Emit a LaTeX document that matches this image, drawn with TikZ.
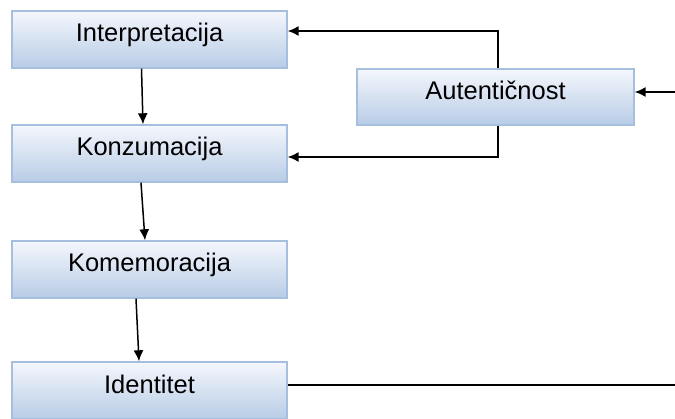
\documentclass[tikz,border=0pt]{standalone}
\usepackage{fontspec}
\setmainfont{Liberation Sans}
\usetikzlibrary{arrows.meta,shadows}
\definecolor{boxtop}{HTML}{F4F7FC}
\definecolor{boxbot}{HTML}{B8CCE6}
\definecolor{boxline}{HTML}{A6BFDE}
\begin{document}
\begin{tikzpicture}[x=1pt,y=1pt,
  stagebox/.style={draw=boxline, line width=1.4pt, top color=boxtop, bottom color=boxbot,
    minimum width=275pt, minimum height=57pt, inner sep=0pt,
    text height=15pt, text depth=10pt, font=\fontsize{25.5}{30}\selectfont,
    drop shadow={shadow xshift=0pt, shadow yshift=-1.5pt, opacity=0.3, fill=black!60}},
  conn/.style={line width=1.5pt, black},
  arr/.style={conn, -{Latex[length=11pt,width=10pt]}}]
\useasboundingbox (0,0) rectangle (675,418);
\node[stagebox] (interp) at (149.5,378.5) {Interpretacija};
\node[stagebox] (konz) at (149.5,264.5) {Konzumacija};
\node[stagebox] (komem) at (149.5,148.5) {Komemoracija};
\node[stagebox] (ident) at (149.5,27.5) {Identitet};
\node[stagebox, minimum width=277pt, minimum height=56pt] (auth) at (495.5,321) {Autentičnost};
\coordinate (rin) at (675,326);
\coordinate (rout) at (675,33);
\draw[arr] ([xshift=-8pt]interp.south) -- ([xshift=-6.5pt]konz.north);
\draw[arr] ([xshift=-8.5pt]konz.south) -- ([xshift=-4.5pt]komem.north);
\draw[arr] ([xshift=-13.5pt]komem.south) -- ([xshift=-10.5pt]ident.north);
\draw[arr] ([xshift=2.5pt]auth.north) |- ([yshift=8.5pt]interp.east);
\draw[arr] ([xshift=2.5pt]auth.south) |- ([yshift=-3.5pt]konz.east);
\draw[arr] (rin) -- (rin -| auth.east);
\draw[conn] (rout -| ident.east) -- (rout);
\end{tikzpicture}
\end{document}
